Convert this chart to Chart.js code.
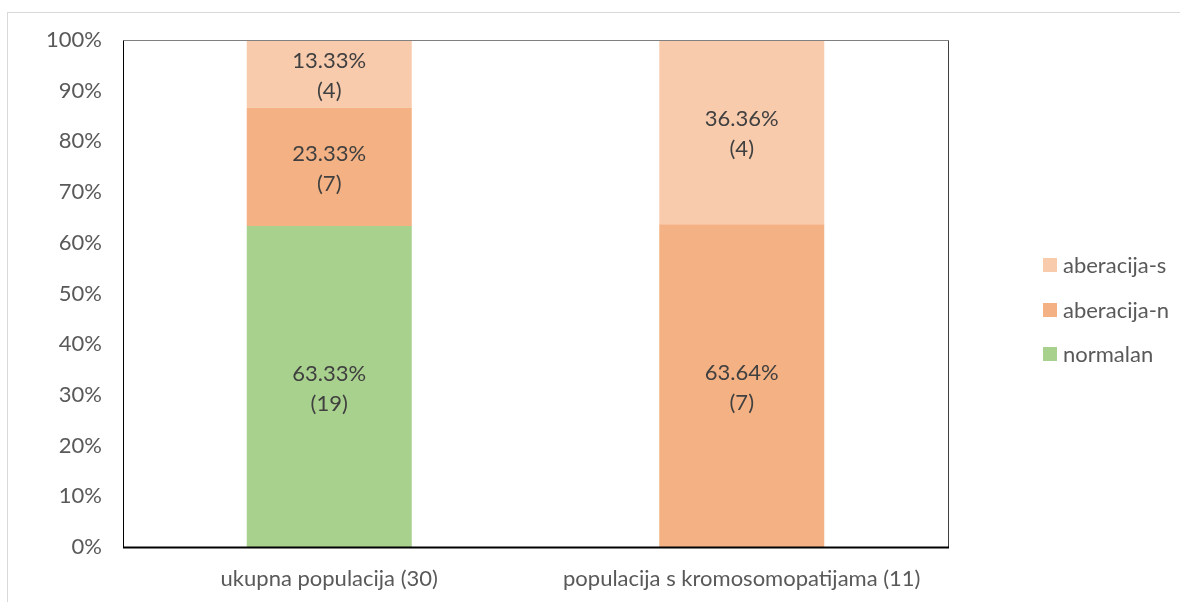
<!DOCTYPE html>
<html>
<head>
<meta charset="utf-8">
<script src="https://cdn.jsdelivr.net/npm/chart.js@4"></script>
<style>
html,body{margin:0;padding:0;background:#fff;}
canvas{display:block;}
</style>
</head>
<body>
<canvas id="c" width="1180" height="602"></canvas>
<script>
const categories = ['ukupna populacija (30)', 'populacija s kromosomopatijama (11)'];
const seriesNames = ['normalan', 'aberacija-n', 'aberacija-s'];
const normalanPct = [63.33, 0];
const aberNPct = [23.33, 63.64];
const aberSPct = [13.33, 36.36];
const normalanCount = [19, 0];
const aberNCount = [7, 7];
const aberSCount = [4, 4];
const yTicks = [0, 10, 20, 30, 40, 50, 60, 70, 80, 90, 100];

const colors = ['#a9d18e', '#f4b183', '#f8cbad'];
const FONT = 'Lato';
const FS = 22;

const counts = [normalanCount, aberNCount, aberSCount];

const labelPlugin = {
  id: 'segLabels',
  afterDatasetsDraw(chart) {
    const ctx = chart.ctx;
    ctx.save();
    ctx.font = FS + 'px ' + FONT;
    ctx.fillStyle = '#404040';
    ctx.textAlign = 'center';
    ctx.textBaseline = 'middle';
    chart.data.datasets.forEach((ds, di) => {
      const meta = chart.getDatasetMeta(di);
      meta.data.forEach((el, i) => {
        const v = ds.data[i];
        if (!v) return;
        const cy = (el.y + el.base) / 2 + 2;
        ctx.fillText(v.toFixed(2) + '%', el.x, cy - 15);
        ctx.fillText('(' + counts[di][i] + ')', el.x, cy + 15);
      });
    });
    ctx.restore();
  }
};

const framePlugin = {
  id: 'frame',
  afterDraw(chart) {
    const ctx = chart.ctx;
    const a = chart.chartArea;
    ctx.save();
    ctx.strokeStyle = '#d9d9d9';
    ctx.lineWidth = 1;
    ctx.strokeRect(7.5, 12.5, 1200, 700);
    const L = Math.round(a.left) + 0.5, R = Math.round(a.right) + 0.5;
    const T = Math.round(a.top) + 0.5, B = Math.round(a.bottom) + 0.5;
    ctx.lineWidth = 1;
    ctx.strokeStyle = '#808080';
    ctx.beginPath(); ctx.moveTo(L, T); ctx.lineTo(R, T); ctx.stroke();
    ctx.strokeStyle = '#000';
    ctx.beginPath(); ctx.moveTo(L, T); ctx.lineTo(L, B); ctx.stroke();
    ctx.strokeStyle = '#404040';
    ctx.beginPath(); ctx.moveTo(R, T); ctx.lineTo(R, B); ctx.stroke();
    ctx.strokeStyle = '#000';
    ctx.lineWidth = 2;
    ctx.beginPath(); ctx.moveTo(L - 0.5, B); ctx.lineTo(R + 0.5, B); ctx.stroke();
    ctx.font = FS + 'px ' + FONT;
    ctx.textAlign = 'left';
    ctx.textBaseline = 'middle';
    const order = [2, 1, 0];
    const ys = [265, 310, 354];
    order.forEach((di, k) => {
      ctx.fillStyle = colors[di];
      ctx.fillRect(1043, ys[k] - 7, 14, 14);
      ctx.fillStyle = '#595959';
      ctx.fillText(seriesNames[di], 1063, ys[k] + 1);
    });
    ctx.restore();
  }
};

new Chart(document.getElementById('c'), {
  type: 'bar',
  data: {
    labels: categories,
    datasets: [
      { label: seriesNames[0], data: normalanPct, backgroundColor: colors[0] },
      { label: seriesNames[1], data: aberNPct, backgroundColor: colors[1] },
      { label: seriesNames[2], data: aberSPct, backgroundColor: colors[2] }
    ]
  },
  options: {
    responsive: false,
    animation: false,
    layout: { padding: { left: 0, top: 40, right: 232, bottom: 0 } },
    datasets: { bar: { categoryPercentage: 1.0, barPercentage: 0.4, borderWidth: 0 } },
    plugins: { legend: { display: false }, tooltip: { enabled: false } },
    scales: {
      x: {
        stacked: true,
        grid: { display: false, drawTicks: false },
        border: { display: false },
        ticks: { color: '#595959', font: { family: FONT, size: FS }, padding: 19 },
        afterFit(s) { s.height = 55; }
      },
      y: {
        stacked: true,
        min: 0, max: 100,
        afterBuildTicks(s) { s.ticks = yTicks.map(v => ({ value: v })); },
        grid: { display: false, drawTicks: false },
        border: { display: false },
        ticks: { color: '#595959', font: { family: FONT, size: FS }, padding: 21,
                 callback: v => v + '%' },
        afterFit(s) { s.width = 123; }
      }
    }
  },
  plugins: [labelPlugin, framePlugin]
});
</script>
</body>
</html>
